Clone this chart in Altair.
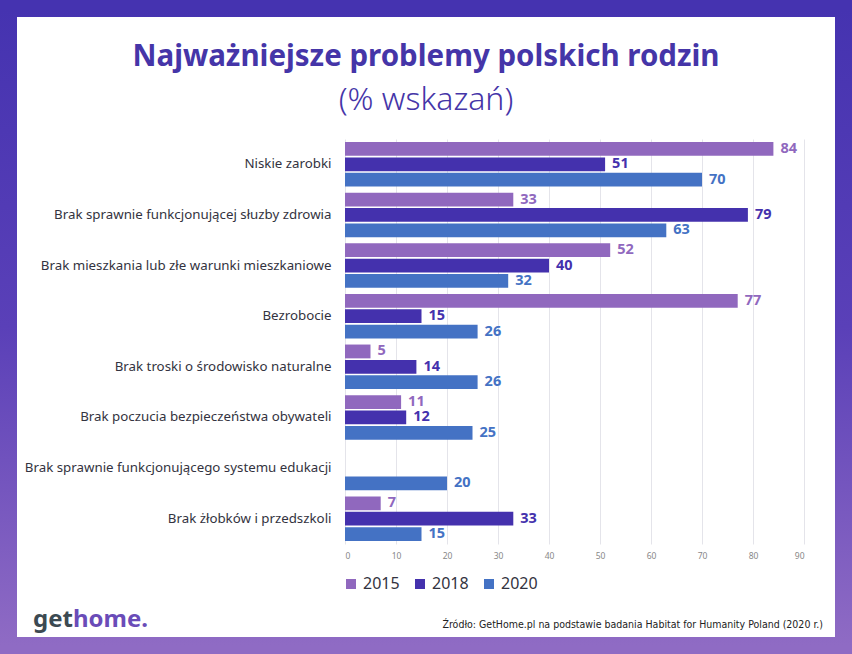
import altair as alt
import pandas as pd

categories = [
    "Niskie zarobki",
    "Brak sprawnie funkcjonującej słuzby zdrowia ",
    "Brak mieszkania lub złe warunki mieszkaniowe",
    "Bezrobocie",
    "Brak troski o środowisko naturalne",
    "Brak poczucia bezpieczeństwa obywateli",
    "Brak sprawnie funkcjonującego systemu edukacji",
    "Brak żłobków i przedszkoli",
]
years = ["2015", "2018", "2020"]
v2015 = [84, 33, 52, 77, 5, 11, None, 7]
v2018 = [51, 79, 40, 15, 14, 12, None, 33]
v2020 = [70, 63, 32, 26, 26, 25, 20, 15]
year_colors = ["#9068BE", "#4431AD", "#4472C4"]
x_ticks = [0, 10, 20, 30, 40, 50, 60, 70, 80, 90]

title_text = "Najważniejsze problemy polskich rodzin"
subtitle_text = "(% wskazań)"
source_text = "Źródło: GetHome.pl na podstawie badania Habitat for Humanity Poland (2020 r.)"

rows = []
for series, yr in zip([v2015, v2018, v2020], years):
    for cat, v in zip(categories, series):
        if v is not None:
            rows.append({"cat": cat, "year": yr, "val": v})
df = pd.DataFrame(rows)

# geometry
W, H = 459, 405
L, T = 345, 139
CW, CH = 852, 654

FONT = "Noto Sans"

y_enc = alt.Y(
    "cat:N", sort=categories,
    scale=alt.Scale(paddingInner=0.12, paddingOuter=0.06),
    axis=alt.Axis(title=None, ticks=False, domain=False, labelPadding=14,
                  labelFontSize=13.3, labelColor="#333340", labelFont=FONT,
                  labelLimit=400),
)
yoff = alt.YOffset("year:N", sort=years, scale=alt.Scale(paddingInner=0.1))
x_enc = alt.X(
    "val:Q", scale=alt.Scale(domain=[0, 90], nice=False),
    axis=alt.Axis(values=x_ticks, title=None, ticks=False, domain=False,
                  labelFontSize=8.5, labelColor="#888888", labelFont=FONT,
                  gridColor="#e4e4ea", labelPadding=7, format="d"),
)
color_scale = alt.Scale(domain=years, range=year_colors)

bars = alt.Chart(df).mark_bar().encode(
    y=y_enc, yOffset=yoff, x=x_enc,
    color=alt.Color("year:N", scale=color_scale, legend=alt.Legend(
        orient="none", legendX=-2, legendY=437, direction="horizontal",
        title=None, symbolType="square", symbolSize=100, symbolStrokeWidth=0,
        symbolOpacity=1, labelFontSize=16, labelFont=FONT, labelColor="#333340",
        columnPadding=12, labelOffset=4,
    )),
)

labels = alt.Chart(df).mark_text(
    align="left", baseline="middle", dx=7, fontSize=14.5, fontWeight="bold", font=FONT
).encode(
    y=alt.Y("cat:N", sort=categories), yOffset=alt.YOffset("year:N", sort=years),
    x="val:Q", text="val:Q",
    color=alt.Color("year:N", scale=color_scale, legend=None),
)

one = alt.Data(values=[{}])

frame = alt.Chart(one).mark_rect(
    filled=False, strokeWidth=17,
    stroke=alt.Gradient(
        gradient="linear", x1=0, y1=0, x2=0, y2=1,
        stops=[alt.GradientStop(color="#4533B0", offset=0),
               alt.GradientStop(color="#5A40B8", offset=0.5),
               alt.GradientStop(color="#8F6BC4", offset=1)],
    ),
).encode(
    x=alt.value(8.5 - L), x2=alt.value(CW - 8.5 - L),
    y=alt.value(8.5 - T), y2=alt.value(CH - 8.5 - T),
)

title = alt.Chart(one).mark_text(
    text=title_text, fontSize=29.5, fontWeight="bold", font=FONT,
    color="#4535A8", align="center", baseline="alphabetic",
).encode(x=alt.value(426 - L), y=alt.value(66 - T))

subtitle = alt.Chart(one).mark_text(
    text=subtitle_text, fontSize=32, fontWeight=300, font=FONT,
    color="#4535A8", align="center", baseline="alphabetic",
).encode(x=alt.value(426 - L), y=alt.value(110 - T))

logo_get = alt.Chart(one).mark_text(
    text="get", fontSize=24, fontWeight="bold", font=FONT,
    color="#3C4A52", align="right", baseline="alphabetic",
).encode(x=alt.value(73 - L), y=alt.value(627 - T))

logo_home = alt.Chart(one).mark_text(
    text="home.", fontSize=24, fontWeight="bold", font=FONT,
    color="#6A4CB8", align="left", baseline="alphabetic",
).encode(x=alt.value(73 - L), y=alt.value(627 - T))

source = alt.Chart(one).mark_text(
    text=source_text, fontSize=10.5, font="Liberation Sans Narrow, DejaVu Sans Condensed",
    color="#222222", align="right", baseline="middle",
).encode(x=alt.value(823 - L), y=alt.value(625 - T))

chart = alt.layer(
    frame, bars, labels, title, subtitle, logo_get, logo_home, source
).properties(
    width=W, height=H,
    padding={"left": L, "top": T, "right": CW - L - W, "bottom": CH - T - H},
    autosize=alt.AutoSizeParams(type="none"),
    background="white",
).configure_view(stroke=None)

chart.save("out.html", embed_options={"renderer": "svg", "actions": False})
